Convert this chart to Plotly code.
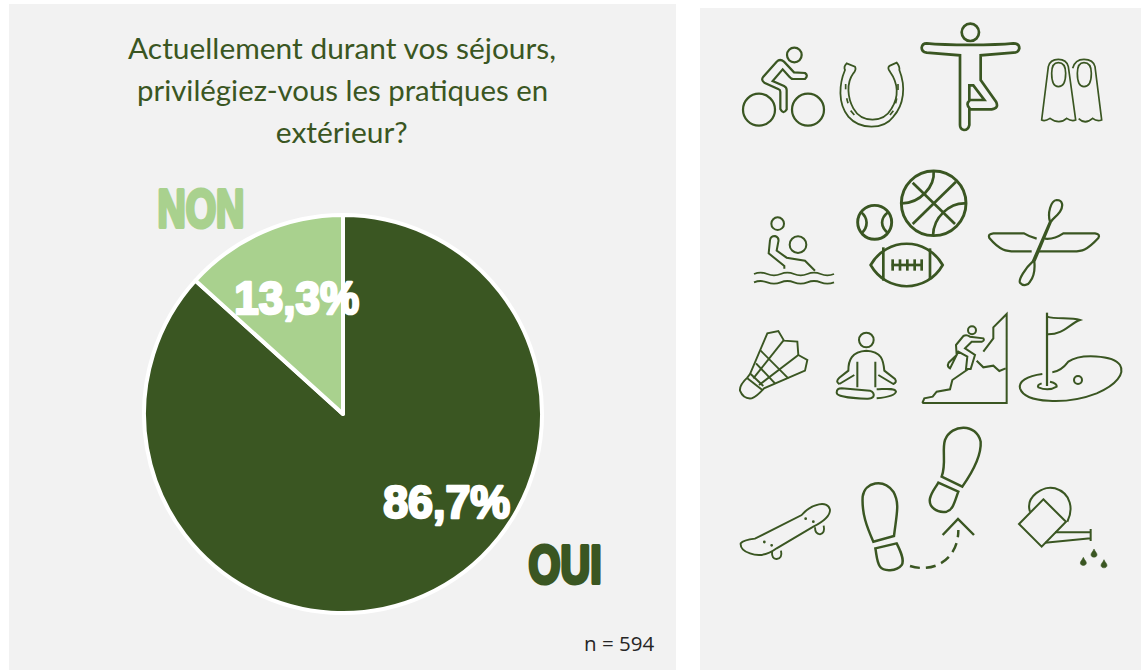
import re
import json
import plotly.graph_objects as go

# ---- data ----
labels = ["OUI", "NON"]
values = [86.7, 13.3]
colors = ["#3a5622", "#a9d18e"]
title_lines = ["Actuellement durant vos séjours,", "privilégiez-vous les pratiques en", "extérieur?"]
note = "n = 594"

W, H = 1141, 670
DARK = "#3a5622"
PANEL = "#f2f2f2"

def fx(x): return x / W
def fy(y): return 1 - y / H

def tr(path, ox, oy):
    toks = re.findall(r"[A-Za-z]|-?\d+\.?\d*", path)
    out = []
    is_x = True
    for t in toks:
        if t.isalpha():
            out.append(t); is_x = True
        else:
            v = float(t)
            if is_x:
                out.append(f"{fx(ox + v / 3):.5f},")
            else:
                out.append(f"{fy(oy + v / 3):.5f}")
            is_x = not is_x
    return " ".join(out).replace(", ", ",")

shapes = []
def rect(x0, y0, x1, y1):
    shapes.append(dict(type="rect", xref="paper", yref="paper", x0=fx(x0), x1=fx(x1), y0=fy(y0), y1=fy(y1),
                       fillcolor=PANEL, line_width=0, layer="below"))
rect(9, 4, 676, 670)
rect(700, 8, 1141, 670)

def P(path, o=(720, 10), w=2, fill=None, dash=None):
    line = dict(color=DARK, width=w * 1.12)
    if dash: line["dash"] = dash
    shapes.append(dict(type="path", xref="paper", yref="paper", path=tr(path, *o), line=line,
                       fillcolor=fill or "rgba(0,0,0,0)"))

def C(cx, cy, r, o=(720, 10), w=2):
    k = 0.5523 * r
    p = (f"M {cx-r},{cy} C {cx-r},{cy-k} {cx-k},{cy-r} {cx},{cy-r} C {cx+k},{cy-r} {cx+r},{cy-k} {cx+r},{cy} "
         f"C {cx+r},{cy+k} {cx+k},{cy+r} {cx},{cy+r} C {cx-k},{cy+r} {cx-r},{cy+k} {cx-r},{cy} Z")
    P(p, o, w)

A = (720, 10)
B = (720, 300)
# bike
C(223, 135, 22); C(117, 299, 48); C(264, 299, 48)
P("M 181,297 L 181,245 Q 181,240 176,238 L 133,218 Q 122,210 130,200 L 170,155 Q 180,145 192,155 L 222,187 L 255,189 Q 266,197 255,207 L 220,207 Q 214,207 208,200 L 188,178 L 158,213 L 192,228 Q 200,232 200,240 L 200,298 Q 190,315 181,297 Z")
# horseshoe
P("M 380,160 L 405,170 Q 410,178 400,190 C 378,220 383,265 400,295 C 425,340 490,340 515,295 C 537,260 535,220 510,185 Q 500,172 510,167 L 530,158 Q 540,170 538,180 C 558,230 552,285 520,320 C 490,360 420,360 385,320 C 352,280 358,220 375,180 Q 370,170 380,160 Z", w=1.6)
for d in ["M 377,222 L 377,238", "M 380,265 L 384,280", "M 392,302 L 403,315", "M 510,315 L 520,302", "M 530,265 L 527,280", "M 534,222 L 534,240"]:
    P(d, w=1.5)
# yoga
C(751, 67, 26, w=2.4)
P("M 620,100 C 680,106 820,106 880,100 Q 898,100 898,115 Q 895,128 880,128 L 782,136 L 782,210 L 828,275 Q 838,295 815,298 L 748,298 L 748,345 Q 745,360 732,360 Q 720,358 720,345 L 720,136 L 620,128 Q 605,125 605,113 Q 607,100 620,100 Z", w=2.4)
P("M 748,270 L 748,226 L 760,226 L 793,270 L 750,270 Q 735,283 750,296", w=2.4)
# fins
P("M 985,170 Q 990,148 1015,148 Q 1040,148 1045,170 L 1067,330 Q 1055,335 1040,325 Q 1018,345 990,325 Q 975,335 965,330 Z", w=1.5)
P("M 995,190 Q 995,158 1015,158 Q 1037,158 1037,190 Q 1037,230 1015,230 Q 995,230 995,190 Z", w=1.5)
P("M 1058,175 Q 1065,148 1092,148 Q 1120,148 1125,170 L 1145,330 Q 1130,335 1118,325 Q 1095,345 1076,326", w=1.5)
P("M 1072,190 Q 1072,158 1092,158 Q 1114,158 1114,190 Q 1114,230 1092,230 Q 1072,230 1072,190 Z", w=1.5)
# water polo
C(173, 641, 19, w=1.8); C(234, 704, 25, w=1.8)
P("M 150,690 Q 152,678 165,678 Q 178,682 175,695 L 170,722 L 200,743 L 255,752 L 285,782", w=1.8)
P("M 150,690 L 146,730 L 193,768 L 193,776", w=1.8)
for yy in (792, 817):
    P(f"M 102,{yy} Q 122,{yy-8} 142,{yy} Q 162,{yy+8} 182,{yy} Q 202,{yy-8} 222,{yy} Q 242,{yy+8} 262,{yy} Q 282,{yy-8} 302,{yy} Q 322,{yy+8} 342,{yy}", w=1.6)
# balls
C(641, 580, 97, w=2.6); C(464, 637, 51, w=2.6)
for d in ["M 578,518 L 705,642", "M 578,642 L 708,515", "M 641,483 C 645,530 600,580 546,580", "M 736,580 C 690,578 640,620 639,677",
          "M 423,606 C 445,625 445,650 425,670", "M 505,606 C 480,625 480,650 505,670",
          "M 452,765 C 500,680 620,680 668,765 C 620,850 500,850 452,765 Z", "M 490,712 L 490,812", "M 630,715 L 630,808",
          "M 515,765 L 606,765", "M 518,748 L 518,782", "M 540,748 L 540,782", "M 562,748 L 562,782", "M 584,748 L 584,782", "M 605,748 L 605,782"]:
    P(d, w=2.4)
# kayak
P("M 950,686 C 935,682 925,678 912,670 L 820,670 Q 803,672 808,684 C 840,722 860,724 885,724 L 935,724", w=2)
P("M 975,686 C 995,688 1015,680 1030,670 L 1125,670 Q 1142,672 1135,684 C 1100,722 1085,724 1060,724 L 955,724", w=2)
P("M 990,635 C 982,610 992,572 1010,570 C 1030,570 1030,590 1020,605 C 1010,620 998,625 993,635 L 943,755 C 945,775 945,795 930,815 C 925,825 910,830 900,818 C 895,810 915,775 938,755 L 990,635", w=2)
# shuttlecock
P("M 82,233 Q 58,255 60,272 Q 70,298 95,295 Q 110,290 132,265 L 255,212 L 262,180 L 235,165 L 232,125 L 192,122 L 175,93 L 142,100 L 90,222 Z", B, 1.7)
for d in ["M 190,122 L 100,235", "M 235,165 L 117,255", "M 122,152 L 205,235", "M 108,190 L 165,250", "M 92,222 L 130,258", "M 82,235 L 127,270"]:
    P(d, B, 1.7)
# meditation
C(439, 120, 22, B, 1.8)
P("M 358,252 Q 345,245 358,233 L 385,212 C 385,180 395,155 439,152 C 485,155 490,180 493,212 L 525,237 Q 532,247 520,252 L 475,225 M 358,252 L 403,225", B, 1.8)
P("M 412,185 L 412,262 M 466,185 L 466,262", B, 1.8)
P("M 365,265 L 450,272 Q 465,278 460,290 Q 455,297 440,296 C 400,295 350,290 350,278 Q 350,265 365,265 Z", B, 1.8)
P("M 470,268 C 490,268 525,262 528,275 Q 525,290 470,295", B, 1.8)
# climber
P("M 607,309 L 860,309 L 860,42 L 820,82 L 820,115 L 790,155", B, 1.8)
P("M 607,309 L 613,295 L 638,290 L 650,275 L 690,268 L 697,240 L 745,207", B, 1.8)
P("M 770,182 L 790,202 L 820,197 L 838,213 L 857,205", B, 1.8)
C(756, 91, 12, B, 1.8)
P("M 708,135 L 730,108 Q 740,103 750,110 L 790,115 Q 795,122 785,125 L 755,125 L 735,145 L 765,165 L 752,207 L 738,207 L 742,170 L 715,155 L 690,205 Q 680,200 686,188 L 710,165 Z", B, 1.8)
# golf
P("M 981,38 L 981,258", B, 2)
P("M 981,50 C 1010,60 1050,50 1080,60 C 1050,70 1030,105 981,103", B, 1.8)
P("M 965,250 Q 950,255 955,262 Q 985,275 1010,260 Q 1012,250 990,245", B, 1.8)
C(1074, 240, 12, B, 1.8)
P("M 967,222 C 920,228 895,245 900,265 C 915,310 1040,315 1130,280 C 1190,255 1215,220 1200,195 C 1180,165 1080,160 1045,185 C 1030,205 1010,215 997,217", B, 1.8)
# skateboard
P("M 62,730 Q 70,720 105,716 L 245,645 C 275,610 325,600 330,630 C 330,650 310,665 280,680 L 170,745 Q 130,775 90,760 Q 60,750 62,730 Z", B, 1.7)
P("M 156,755 Q 155,778 170,777 Q 188,775 183,752", B, 1.7)
P("M 285,682 Q 285,702 300,703 Q 316,700 311,677", B, 1.7)
for x_, y_ in [(133, 726), (155, 736), (257, 656), (280, 665)]:
    C(x_, y_, 2, B, 1.3)
# footprints
P("M 460,725 C 440,680 425,640 428,590 C 435,545 490,535 520,575 C 540,610 530,640 522,708 Z", B, 2.2)
P("M 466,745 L 530,730 C 540,750 555,780 545,795 C 530,815 490,815 480,800 C 470,785 470,765 466,745 Z", B, 2.2)
P("M 665,530 C 680,490 665,450 675,420 C 695,370 770,370 782,425 C 785,470 755,520 727,560 Z", B, 2.2)
P("M 655,548 L 715,575 C 705,600 700,630 680,635 C 650,640 625,620 630,595 C 635,575 645,565 655,548 Z", B, 2.2)
P("M 570,798 C 640,820 715,780 715,690", B, 2.2, dash="10px,6px")
P("M 668,705 L 714,657 L 762,705", B, 2.2)
# watering can
P("M 930,635 C 915,590 970,555 1005,565 C 1055,580 1060,630 1042,665", B, 1.8)
P("M 970,598 L 1038,665 L 965,740 L 897,672 Z", B, 1.8)
P("M 1005,697 L 1112,697 M 975,728 L 1112,715 M 1112,687 L 1112,723", B, 1.8)
for x_, y_ in [(1122, 762), (1090, 787), (1152, 794)]:
    P(f"M {x_},{y_-15} C {x_+4},{y_-6} {x_+9},{y_-3} {x_+9},{y_+2} C {x_+9},{y_+12} {x_-9},{y_+12} {x_-9},{y_+2} C {x_-9},{y_-3} {x_-4},{y_-6} {x_},{y_-15} Z", B, 0.5, fill=DARK)

# ---- figure ----
R = 199
CX, CY = 343, 414
pie = go.Pie(labels=labels, values=values, sort=False, direction="clockwise", rotation=0,
             marker=dict(colors=colors, line=dict(color="white", width=4)), textinfo="none",
             showlegend=False, hoverinfo="label+percent",
             domain=dict(x=[fx(CX - R), fx(CX + R)], y=[fy(CY + R), fy(CY - R)]))

def heavy(color, size):
    return dict(family="Liberation Sans", size=size, color=color, weight=700)

def txt(x, y, text, font):
    return dict(x=fx(x), y=fy(y), xref="paper", yref="paper", text=text, showarrow=False,
                xanchor="center", yanchor="middle", font=font, align="center")

fmt = lambda v: f"{v:.1f}".replace(".", ",") + "%"
annotations = [txt(342, 48 + 42 * i, t, dict(family="Lato", size=28.5, color=DARK)) for i, t in enumerate(title_lines)]
annotations += [
    txt(201, 208, labels[1], heavy(colors[1], 53)),
    txt(565, 564, labels[0], heavy(colors[0], 53)),
    txt(296, 297, fmt(values[1]), heavy("#ffffff", 47)),
    txt(446, 501, fmt(values[0]), heavy("#ffffff", 47)),
    txt(619, 643, note, dict(family="Open Sans", size=20.5, color="#262626")),
]

# text widths measured on the reference, applied to the real SVG text after drawing
fit = {title_lines[0]: [428, 0], title_lines[1]: [411, 0], title_lines[2]: [132, 0],
       labels[1]: [87, 4], labels[0]: [73, 4], fmt(values[1]): [125, 2.6], fmt(values[0]): [127, 2.6]}
post = """
document.body.style.margin='0';document.body.style.overflow='hidden';
var FIT=%s;
function fitText(){document.querySelectorAll('.annotation-text').forEach(function(t){
  var f=FIT[t.textContent]; if(!f) return;
  t.setAttribute('textLength',f[0]); t.setAttribute('lengthAdjust','spacingAndGlyphs');
  if(f[1]){t.style.stroke=t.style.fill; t.style.strokeWidth=f[1]+'px'; t.style.strokeLinejoin='round';}
});}
fitText(); setTimeout(fitText,50); setTimeout(fitText,300);
""" % json.dumps(fit, ensure_ascii=False)

fig = go.Figure(pie)
fig.update_layout(width=W, height=H, margin=dict(l=0, r=0, t=0, b=0), autosize=False,
                  paper_bgcolor="white", plot_bgcolor="white", shapes=shapes, annotations=annotations)
fig.write_html("out.html", post_script=post, config=dict(displayModeBar=False))
